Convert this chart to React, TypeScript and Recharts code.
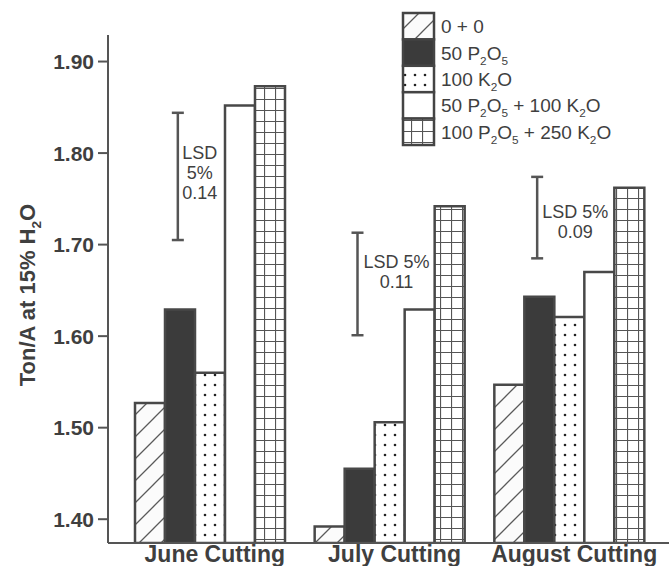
import { Bar, BarChart, Legend, ReferenceLine, XAxis, YAxis } from "recharts";

// Forage yield per cutting, by fertilizer treatment (ton/acre at 15% moisture)
const CUTTINGS = ["June Cutting", "July Cutting", "August Cutting"];
const NO_FERT = [1.527, 1.392, 1.547];
const P_50 = [1.629, 1.455, 1.643];
const K_100 = [1.56, 1.506, 1.621];
const P50_K100 = [1.852, 1.629, 1.67];
const P100_K250 = [1.873, 1.742, 1.762];
const Y_TICKS = [1.4, 1.5, 1.6, 1.7, 1.8, 1.9];

// LSD 5% whiskers drawn next to each group
const LSD_LOW = [1.705, 1.601, 1.685];
const LSD_HIGH = [1.844, 1.713, 1.774];
const LSD_TEXT = [
  ["LSD", "5%", "0.14"],
  ["LSD 5%", "0.11"],
  ["LSD 5%", "0.09"],
];

const SERIES = [
  { key: "none", name: "0 + 0", values: NO_FERT, fill: "url(#hatch)" },
  { key: "p", name: "50 P_2O_5", values: P_50, fill: "#3b3b3b" },
  { key: "k", name: "100 K_2O", values: K_100, fill: "url(#dots)" },
  { key: "pk", name: "50 P_2O_5 + 100 K_2O", values: P50_K100, fill: "#ffffff" },
  { key: "pk2", name: "100 P_2O_5 + 250 K_2O", values: P100_K250, fill: "url(#grid)" },
];

const data = CUTTINGS.map((cutting, i) => {
  const row: Record<string, string | number> = { cutting };
  SERIES.forEach((s) => (row[s.key] = s.values[i]));
  return row;
});

const INK = "#3f3f3f";
const LINE = "#555555";
const FONT = "'Liberation Sans', Arial, Helvetica, sans-serif";

// LSD whisker sits a bit left of the group centre; text is offset from it
const LSD_DX = -33;
const LSD_TEXT_DX = [22, 39, 38];
const LSD_TEXT_DY = [46, 35, 41];

// turns "P_2O_5" into tspans with small lowered digits
function chem(text: string, shift: number) {
  const parts = text.split(/_(\d)/);
  const out: any[] = [];
  let low = false;
  parts.forEach((p, i) => {
    if (i % 2 === 1) {
      out.push(
        <tspan key={i} dy={low ? 0 : shift} fontSize="0.62em">
          {p}
        </tspan>
      );
      low = true;
    } else if (p) {
      out.push(
        <tspan key={i} dy={low ? -shift : 0}>
          {p}
        </tspan>
      );
      low = false;
    }
  });
  return out;
}

function Patterns() {
  return (
    <svg width={0} height={0} style={{ position: "absolute" }}>
      <defs>
        <pattern id="hatch" width={22} height={22} patternUnits="userSpaceOnUse">
          <rect width={22} height={22} fill="#fbfbfb" />
          <path d="M0,22 L22,0 M-5,5 L5,-5 M17,27 L27,17" stroke="#5a5a5a" strokeWidth={1.3} />
        </pattern>
        <pattern id="dots" width={10} height={10} patternUnits="userSpaceOnUse">
          <rect width={10} height={10} fill="#ffffff" />
          <circle cx={5} cy={5} r={1.3} fill="#222" />
        </pattern>
        <pattern id="grid" width={11} height={11} patternUnits="userSpaceOnUse">
          <rect width={11} height={11} fill="#ffffff" />
          <path d="M0,0.5 H11 M0.5,0 V11" stroke="#555" strokeWidth={1.2} />
        </pattern>
      </defs>
    </svg>
  );
}

function PatternLegend() {
  const rowH = 26.4;
  return (
    <svg width={265} height={140} style={{ display: "block" }}>
      {SERIES.map((s, i) => (
        <g key={s.key}>
          <rect x={3} y={3 + i * rowH} width={31} height={rowH} fill={s.fill} stroke="#444" strokeWidth={2.5} />
          <text x={41} y={3 + i * rowH + rowH / 2 + 7} fontSize={19} fill={INK} fontFamily={FONT}>
            {chem(s.name, 5)}
          </text>
        </g>
      ))}
    </svg>
  );
}

function CuttingTick({ x, y, payload }: any) {
  return (
    <text x={x + 4} y={y + 19} textAnchor="middle" fontSize={23} fontWeight="bold" fill={INK} fontFamily={FONT}>
      {payload.value}
    </text>
  );
}

function YTitle({ viewBox }: any) {
  const x = viewBox.x + viewBox.width - 73;
  const y = viewBox.y + viewBox.height / 2 + 6;
  return (
    <text
      x={x}
      y={y}
      transform={`rotate(-90, ${x}, ${y})`}
      textAnchor="middle"
      fontSize={22}
      fontWeight="bold"
      fill={INK}
      fontFamily={FONT}
    >
      {chem("Ton/A at 15% H_2O", 6)}
    </text>
  );
}

function lsdShape(i: number) {
  return (p: any) => {
    const x = p.x1 + LSD_DX;
    const top = Math.min(p.y1, p.y2);
    const bottom = Math.max(p.y1, p.y2);
    const tx = x + LSD_TEXT_DX[i];
    return (
      <g>
        <line x1={x} y1={top} x2={x} y2={bottom} stroke={LINE} strokeWidth={2.5} />
        <line x1={x - 6} y1={top} x2={x + 6} y2={top} stroke={LINE} strokeWidth={2.5} />
        <line x1={x - 6} y1={bottom} x2={x + 6} y2={bottom} stroke={LINE} strokeWidth={2.5} />
        {LSD_TEXT[i].map((line, j) => (
          <text
            key={j}
            x={tx}
            y={top + LSD_TEXT_DY[i] + j * 20}
            textAnchor="middle"
            fontSize={18}
            fill={INK}
            fontFamily={FONT}
          >
            {line}
          </text>
        ))}
      </g>
    );
  };
}

export default function App() {
  return (
    <div style={{ position: "absolute", left: 0, top: 0, background: "#fff" }}>
      <Patterns />
      <BarChart
        width={669}
        height={566}
        data={data}
        margin={{ top: 35, right: 0, bottom: 0, left: 0 }}
        barCategoryGap={14}
        barGap={0}
      >
        <XAxis
          dataKey="cutting"
          height={23}
          padding={{ left: 13, right: 9 }}
          axisLine={{ stroke: LINE, strokeWidth: 2 }}
          tickLine={false}
          tickSize={0}
          tickMargin={0}
          tick={<CuttingTick />}
          interval={0}
        />
        <YAxis
          width={108}
          domain={[1.374, 1.929]}
          ticks={Y_TICKS}
          allowDataOverflow
          tickFormatter={(v: number) => v.toFixed(2)}
          tick={{ fontSize: 21, fontWeight: "bold", fill: INK, fontFamily: FONT }}
          tickSize={10}
          tickMargin={4}
          axisLine={{ stroke: LINE, strokeWidth: 2 }}
          tickLine={{ stroke: LINE, strokeWidth: 2 }}
          label={{ content: <YTitle /> }}
        />
        {SERIES.map((s) => (
          <Bar
            key={s.key}
            dataKey={s.key}
            name={s.name}
            fill={s.fill}
            stroke="#484848"
            strokeWidth={2.5}
            isAnimationActive={false}
          />
        ))}
        {CUTTINGS.map((c, i) => (
          <ReferenceLine
            key={c}
            segment={[
              { x: c, y: LSD_LOW[i] },
              { x: c, y: LSD_HIGH[i] },
            ]}
            shape={lsdShape(i)}
          />
        ))}
        <Legend
          layout="vertical"
          align="center"
          verticalAlign="middle"
          content={<PatternLegend />}
          wrapperStyle={{ left: 400, top: 10, width: 265 }}
        />
      </BarChart>
    </div>
  );
}
